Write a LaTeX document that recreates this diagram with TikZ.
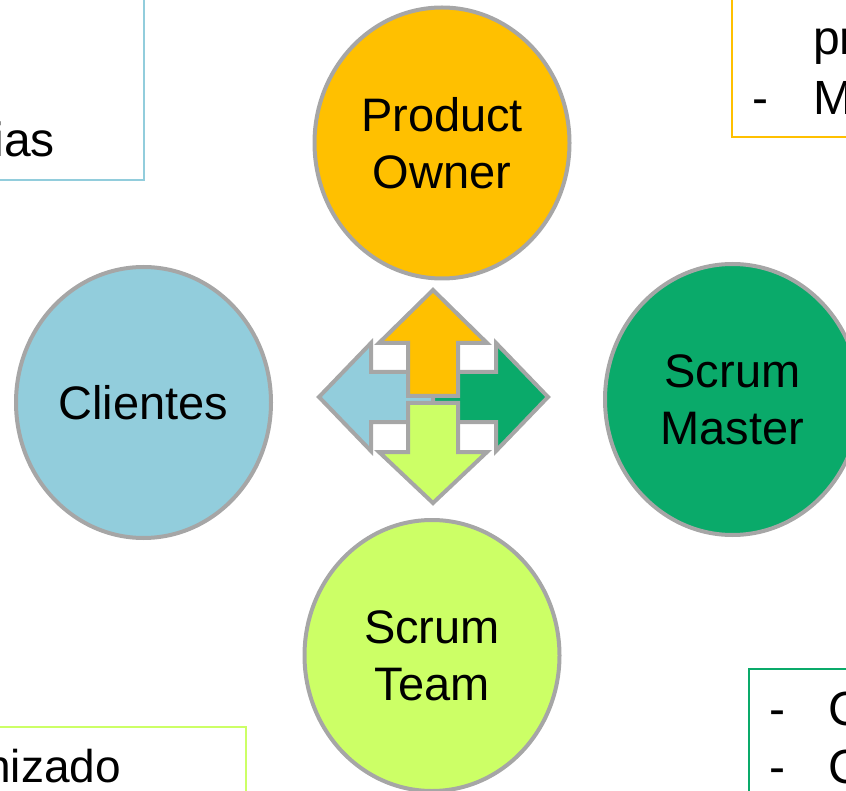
\documentclass[tikz,border=0pt]{standalone}
\usepackage{fontspec}
\setmainfont{Liberation Sans}
\usetikzlibrary{shapes.geometric}
\definecolor{edgegrey}{HTML}{A6A6A6}
\definecolor{poorange}{HTML}{FFC000}
\definecolor{clblue}{HTML}{92CDDC}
\definecolor{smgreen}{HTML}{0AAA6A}
\definecolor{stlime}{HTML}{CCFF66}
\begin{document}
\begin{tikzpicture}[x=1pt,y=-1pt]
	\tikzstyle{role}=[ellipse,draw=edgegrey,line width=4pt,minimum width=255pt,minimum height=271pt,inner sep=0pt,align=center,font=\fontsize{47}{57}\selectfont]
	\tikzstyle{arrowpart}=[draw=edgegrey,line width=4pt,line join=miter]
	\tikzstyle{notebox}=[line width=1.5pt]
	\tikzstyle{notetext}=[inner sep=0pt,font=\fontsize{48}{58}\selectfont]
	\useasboundingbox (0,0) rectangle (846,791);
	\clip (0,0) rectangle (846,791);
	% notes round the roles
	\begin{scope}
		\draw [notebox,draw=clblue] (-10,-10) rectangle (144,180);
		\node [notetext,anchor=base east] (n1) at (55,157) {ias};
		\draw [notebox,draw=poorange] (732,-10) rectangle (860,137);
		\node [notetext,anchor=base west] (n2) at (813,55) {pr};
		\node [notetext,anchor=base west] (n3) at (813,115) {M};
		\node [notetext,anchor=base west] (d1) at (752,115) {-};
		\draw [notebox,draw=stlime] (-10,727) rectangle (246,800);
		\node [notetext,anchor=base east,font=\fontsize{46}{56}\selectfont] (n4) at (121,782) {nizado};
		\draw [notebox,draw=smgreen] (749,669) rectangle (860,800);
		\node [notetext,anchor=base west] (d2) at (769,725) {-};
		\node [notetext,anchor=base west] (n5) at (828,725) {C};
		\node [notetext,anchor=base west] (d3) at (769,783) {-};
		\node [notetext,anchor=base west] (n6) at (828,783) {C};
	\end{scope}
	% the four roles
	\begin{scope}
		\node [role,fill=poorange] (po) at (442,143) {Product\\Owner};
		\node [role,fill=clblue] (cl) at (143.5,402.5) {Clientes};
		\node [role,fill=smgreen] (sm) at (732.5,399.5) {Scrum\\Master};
		\node [role,fill=stlime] (st) at (432,655.5) {Scrum\\Team};
	\end{scope}
	% arrows in the middle
	\begin{scope}
		\path [arrowpart,fill=clblue] (433,372) -- (371,372) -- (371,343) -- (319,397) -- (371,451) -- (371,422) -- (433,422) -- cycle;
		\path [arrowpart,fill=smgreen] (433,372) -- (496,372) -- (496,343) -- (548,397) -- (496,451) -- (496,422) -- (433,422) -- cycle;
		\path [arrowpart,fill=poorange] (408,396) -- (408,343) -- (379,343) -- (433,290) -- (487,343) -- (458,343) -- (458,396) -- cycle;
		\path [arrowpart,fill=stlime] (408,403) -- (408,452) -- (379,452) -- (433,503) -- (487,452) -- (458,452) -- (458,403) -- cycle;
	\end{scope}
\end{tikzpicture}
\end{document}
